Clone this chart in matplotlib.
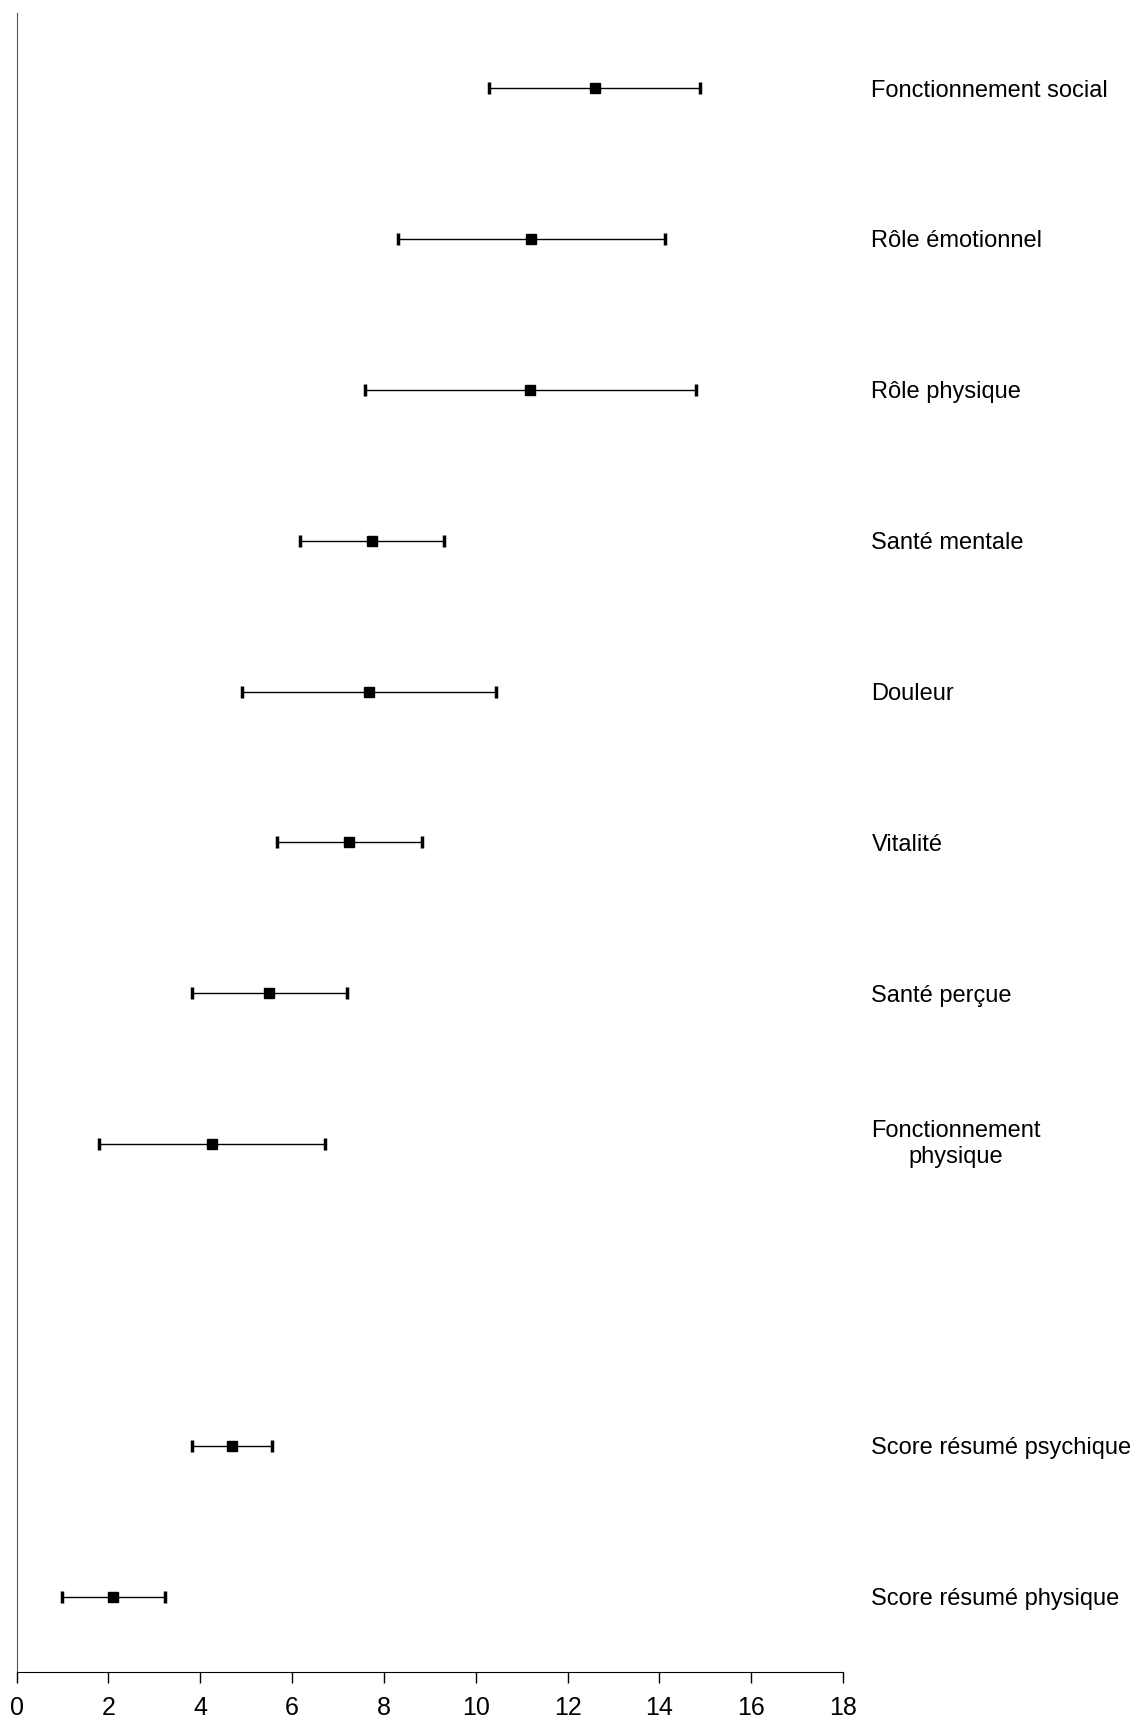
import matplotlib
matplotlib.use("Agg")
import matplotlib.pyplot as plt

# values (mean score difference, 95% CI)
labels = ["Fonctionnement social", "Rôle émotionnel", "Rôle physique",
          "Santé mentale", "Douleur", "Vitalité", "Santé perçue",
          "Fonctionnement\nphysique", "",
          "Score résumé psychique", "Score résumé physique"]
means = [12.60, 11.21, 11.19, 7.75, 7.67, 7.24, 5.50, 4.26, None, 4.69, 2.10]
lows = [10.30, 8.30, 7.58, 6.17, 4.90, 5.67, 3.83, 1.79, None, 3.83, 0.98]
highs = [14.89, 14.13, 14.80, 9.32, 10.45, 8.82, 7.20, 6.72, None, 5.57, 3.23]
xticks = list(range(0, 19, 2))

plt.rcParams["font.family"] = ["Liberation Sans", "DejaVu Sans"]

fig = plt.figure(figsize=(11.4, 17.22), dpi=100)
ax = fig.add_axes([0.0145, 0.029, 0.725, 0.9635])

n = len(labels)
for i, (lab, m, lo, hi) in enumerate(zip(labels, means, lows, highs)):
    y = n - 0.5 - i
    if m is not None:
        ax.errorbar([m], [y], xerr=[[m - lo], [hi - m]], fmt="s", color="black",
                    ecolor="black", elinewidth=1.0, capsize=4.5, capthick=2.5,
                    markersize=7)
    if lab:
        # single-line labels sit a touch lower in the original
        ax.text(18.62, y - (0.015 if "\n" not in lab else 0.0), lab,
                fontsize=17, ha="left", va="center",
                multialignment="center", clip_on=False)

ax.set_xlim(0, 18)
ax.set_ylim(0, n)
ax.set_xticks(xticks)
ax.set_yticks([])
ax.tick_params(axis="x", direction="out", length=8, width=1, pad=9,
               labelsize=18)
for s in ("top", "right"):
    ax.spines[s].set_visible(False)
ax.spines["left"].set_color("#555555")
ax.spines["bottom"].set_color("black")

fig.savefig("out.png", dpi=100)
